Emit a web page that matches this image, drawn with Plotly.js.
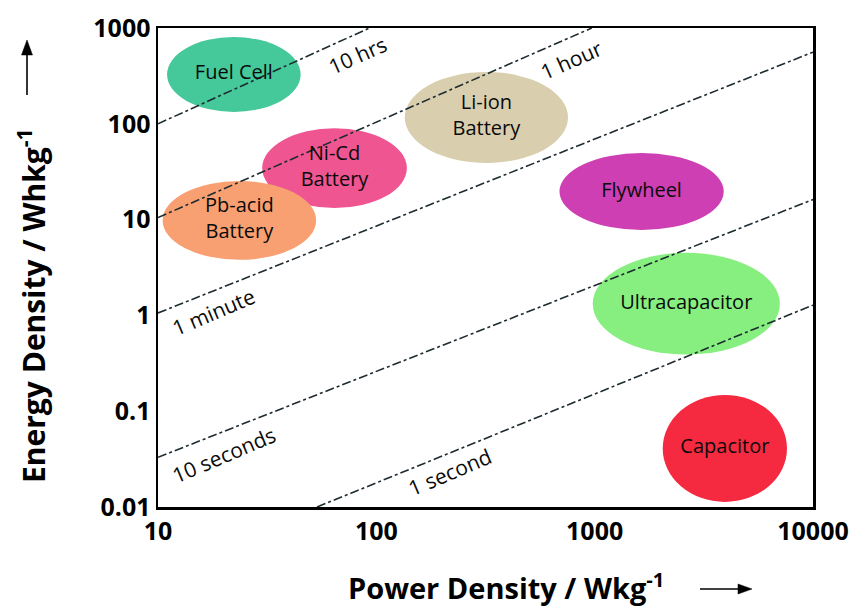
<!DOCTYPE html>
<html>
<head>
<meta charset="utf-8">
<script src="https://cdn.plot.ly/plotly-3.0.1.min.js"></script>
<style>
  html, body { margin: 0; padding: 0; background: #ffffff; }
  #chart { width: 853px; height: 608px; }
</style>
</head>
<body>
<div id="chart"></div>
<script>
// Ragone plot: energy density vs power density of storage technologies

// Axis ticks
const powerTickVals = [10, 100, 1000, 10000];
const powerTickText = ['10', '100', '1000', '10000'];
const energyTickVals = [0.01, 0.1, 1, 10, 100, 1000];
const energyTickText = ['0.01', '0.1', '1', '10', '100', '1000'];

// Technology regions (W/kg and Wh/kg extents)
const techNames = ['Fuel Cell', 'Li-ion<br>Battery', 'Ni-Cd<br>Battery', 'Pb-acid<br>Battery',
                   'Flywheel', 'Ultracapacitor', 'Capacitor'];
const powerMin  = [11,   135,  30,   10.5, 690,  980,  2050];
const powerMax  = [45,   755,  138,  53,   3900, 7050, 7600];
const energyMin = [133,  39,   13.2, 3.8,  7.8,  0.39, 0.0113];
const energyMax = [805,  348,  90,   25.3, 49.5, 4.5,  0.148];
const techColors = ['#45c89a', '#d9cfae', '#ef5591', '#f9a072',
                    '#cd3fb3', '#86ef7f', '#f52a40'];

// Constant discharge-time lines (power, energy end points)
const timeNames   = ['10 hrs', '1 hour', '1 minute', '10 seconds', '1 second'];
const timePower   = [[10, 93], [10, 970], [10, 10000], [10, 10000], [53.5, 10000]];
const timeEnergy  = [[100, 1000], [10.5, 1000], [1.06, 560], [0.033, 16.2], [0.01, 1.28]];

const FONT = 'Open Sans, Noto Sans, DejaVu Sans, sans-serif';
const LINE_COLOR = '#1e2b31';

// ellipses behind everything
const shapes = techNames.map((n, i) => ({
  type: 'circle', xref: 'x', yref: 'y', layer: 'below',
  x0: powerMin[i], x1: powerMax[i], y0: energyMin[i], y1: energyMax[i],
  fillcolor: techColors[i], line: {width: 0}
}));

// axis-title arrows, in paper units of the plot frame
const frameW = 655, frameH = 479;
const px = v => (v - 158) / frameW;
const py = v => (507 - v) / frameH;
function arrowShapes(x0, y0, x1, y1, headLen, headHalf) {
  const dx = x1 - x0, dy = y1 - y0, len = Math.hypot(dx, dy);
  const ux = dx / len, uy = dy / len;
  const bx = x1 - ux * headLen, by = y1 - uy * headLen;
  return [
    {type: 'line', xref: 'paper', yref: 'paper',
     x0: px(x0), y0: py(y0), x1: px(bx + ux * 2), y1: py(by + uy * 2),
     line: {color: '#000000', width: 1.6}},
    {type: 'path', xref: 'paper', yref: 'paper',
     path: 'M ' + px(x1) + ' ' + py(y1) +
           ' L ' + px(bx - uy * headHalf) + ' ' + py(by + ux * headHalf) +
           ' L ' + px(bx + uy * headHalf) + ' ' + py(by - ux * headHalf) + ' Z',
     fillcolor: '#000000', line: {color: '#000000', width: 0.5}}
  ];
}
shapes.push(...arrowShapes(700, 589, 752, 589, 14, 5));
shapes.push(...arrowShapes(27, 95, 27, 40, 15, 5.5));

const traces = [];

timeNames.forEach((n, i) => {
  traces.push({
    type: 'scatter', mode: 'lines', name: n,
    x: timePower[i], y: timeEnergy[i],
    line: {color: LINE_COLOR, width: 1.6, dash: 'dashdot'},
    hoverinfo: 'skip', showlegend: false
  });
});

traces.push({
  type: 'scatter', mode: 'text',
  x: techNames.map((n, i) => Math.sqrt(powerMin[i] * powerMax[i])),
  y: techNames.map((n, i) => Math.sqrt(energyMin[i] * energyMax[i])),
  text: techNames, textposition: 'middle center',
  textfont: {family: FONT, size: 20, color: '#0a0a0a'},
  hoverinfo: 'skip', showlegend: false, cliponaxis: false
});

// rotated labels along the discharge-time lines (annotations on log axes use log10)
const lineLabelStyle = [
  {p: 82.4, e: 522,    angle: -24},
  {p: 780,  e: 463,    angle: -24},
  {p: 17.9, e: 1.085,  angle: -23},
  {p: 20,   e: 0.0349, angle: -23},
  {p: 217,  e: 0.0232, angle: -23}
];
const annotations = timeNames.map((n, i) => ({
  xref: 'x', yref: 'y',
  x: Math.log10(lineLabelStyle[i].p), y: Math.log10(lineLabelStyle[i].e),
  text: n, showarrow: false, textangle: lineLabelStyle[i].angle,
  font: {family: FONT, size: 21, color: '#0a0a0a'}
}));

// axis titles
annotations.push({
  xref: 'paper', yref: 'paper', x: px(506), y: py(586),
  xanchor: 'center', yanchor: 'middle',
  text: 'Power Density / Wkg<sup>-1</sup>', showarrow: false,
  font: {family: FONT, size: 29, color: '#000000', weight: 'bold'}
});
annotations.push({
  xref: 'paper', yref: 'paper', x: px(32), y: py(306),
  xanchor: 'center', yanchor: 'middle', textangle: -90,
  text: 'Energy Density / Whkg<sup>-1</sup>', showarrow: false,
  font: {family: FONT, size: 30, color: '#000000', weight: 'bold'}
});

const layout = {
  width: 853, height: 608,
  margin: {l: 158, r: 40, t: 28, b: 101},
  paper_bgcolor: '#ffffff', plot_bgcolor: '#ffffff',
  showlegend: false,
  xaxis: {
    type: 'log', range: [1, 4],
    tickvals: powerTickVals, ticktext: powerTickText,
    showgrid: false, zeroline: false, ticks: '',
    showline: true, mirror: true, linecolor: '#000000', linewidth: 2.5,
    tickfont: {family: FONT, size: 25, color: '#000000', weight: 'bold'}
  },
  yaxis: {
    type: 'log', range: [-2, 3],
    tickvals: energyTickVals, ticktext: energyTickText,
    showgrid: false, zeroline: false, ticks: '',
    showline: true, mirror: true, linecolor: '#000000', linewidth: 2.5,
    tickfont: {family: FONT, size: 25, color: '#000000', weight: 'bold'}
  },
  shapes: shapes,
  annotations: annotations
};

Plotly.newPlot('chart', traces, layout, {displayModeBar: false, staticPlot: true});
</script>
</body>
</html>
